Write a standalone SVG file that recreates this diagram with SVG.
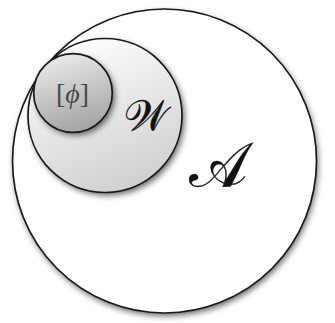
<svg xmlns="http://www.w3.org/2000/svg" width="335" height="323" viewBox="0 0 335 323">
<style>
.ring{stroke:#1a1a1a;stroke-width:1.7}
.sh{fill:#000;opacity:0.6;filter:url(#blur)}
.lbl{font-family:"DejaVu Serif","Liberation Serif",serif;fill:#111;stroke:#111;stroke-width:0.35}
</style>
<defs>
<filter id="blur" x="-20%" y="-20%" width="140%" height="140%"><feGaussianBlur stdDeviation="3.2"/></filter>
<linearGradient id="gW" x1="0.2" y1="0" x2="0.6" y2="1">
<stop offset="0" stop-color="#ffffff"/>
<stop offset="1" stop-color="#d0d0d0"/>
</linearGradient>
<linearGradient id="gP" x1="0.3" y1="0" x2="0.6" y2="1">
<stop offset="0" stop-color="#ebebeb"/>
<stop offset="1" stop-color="#a2a2a2"/>
</linearGradient>
</defs>
<g id="A">
<circle class="sh" cx="166" cy="164" r="152"/>
<circle class="ring" cx="164.5" cy="161" r="152" fill="#fff"/>
<text class="lbl" x="218" y="186" font-size="62" text-anchor="middle">𝒜</text>
</g>
<g id="W">
<circle class="sh" cx="107.5" cy="118.5" r="77"/>
<circle class="ring" cx="105" cy="115.5" r="77" fill="url(#gW)"/>
<text class="lbl" x="146" y="130" font-size="42" text-anchor="middle">𝒲</text>
</g>
<g id="phi">
<circle class="sh" cx="75.5" cy="96" r="39.3"/>
<circle class="ring" cx="73" cy="93" r="39.3" fill="url(#gP)"/>
<text x="72.5" y="103" font-size="28" text-anchor="middle" font-family="Liberation Serif,serif" fill="#4a4a4a">[<tspan font-style="italic">ϕ</tspan>]</text>
</g>
<g id="connectors"/>
</svg>
